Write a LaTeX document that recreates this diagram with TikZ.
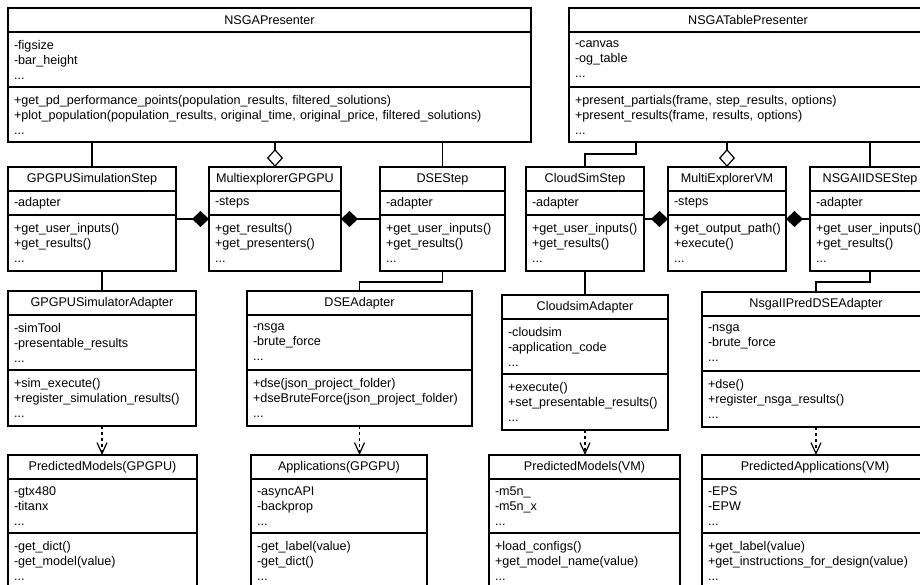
\documentclass[tikz,border=0pt]{standalone}
\usepackage{fontspec}
\setmainfont{Liberation Sans}
\usetikzlibrary{arrows.meta}
\tikzset{
	umlbox/.style={draw, inner xsep=6pt, inner ysep=0pt, outer sep=0pt, anchor=north west, font=\fontsize{12.6pt}{15pt}\selectfont},
	umltitle/.style={umlbox, align=center},
	umlpart/.style={umlbox, align=left},
	compo/.style={-{Diamond[length=17pt,width=16pt]}},
	aggreg/.style={-{Diamond[open,length=18pt,width=16pt]}},
	depend/.style={-{Straight Barb[length=11pt,width=10pt]}, dash pattern=on 3pt off 3pt},
}
\def\umlclass(#1)(#2)#3#4#5#6#7#8{%
	\pgfmathsetmacro\clw{#3-12}%
	\node[umltitle, minimum width=#3pt, text width=\clw pt, minimum height=24pt] (#1) at (#2) {#4};
	\node[umlpart, minimum width=#3pt, text width=\clw pt, minimum height=#6pt] (#1-a) at (#1.south west) {#5};
	\node[umlpart, minimum width=#3pt, text width=\clw pt, minimum height=#8pt] (#1-m) at (#1-a.south west) {#7};
}

\begin{document}
\begin{tikzpicture}[x=1pt, y=-1pt, line width=1.2pt]
		%%%%% START %%%%%
		\useasboundingbox (0,0) rectangle (920,585);
		\clip (0,0) rectangle (920,585);
		
		\umlclass(nsga)(8,8){523}{NSGAPresenter}
			{-figsize\\-bar\_height\\...}{55}
			{+get\_pd\_performance\_points(population\_results, filtered\_solutions)\\+plot\_population(population\_results, original\_time, original\_price, filtered\_solutions)\\...}{55}
		\umlclass(ntab)(569,8){358}{NSGATablePresenter}
			{-canvas\\-og\_table\\...}{55}
			{+present\_partials(frame, step\_results, options)\\+present\_results(frame, results, options)\\...}{55}
		
		\umlclass(gsim)(8,167){168}{GPGPUSimulationStep}
			{-adapter}{24}{+get\_user\_inputs()\\+get\_results()\\...}{56}
		\umlclass(mgpu)(209,167){132}{MultiexplorerGPGPU}
			{-steps}{24}{+get\_results()\\+get\_presenters()\\...}{56}
		\umlclass(dse)(380,167){125}{DSEStep}
			{-adapter}{24}{+get\_user\_inputs()\\+get\_results()\\...}{56}
		\umlclass(csim)(526,167){118}{CloudSimStep}
			{-adapter}{24}{+get\_user\_inputs()\\+get\_results()\\...}{56}
		\umlclass(mvm)(668,167){118}{MultiExplorerVM}
			{-steps}{24}{+get\_output\_path()\\+execute()\\...}{56}
		\umlclass(ndse)(810,167){120}{NSGAIIDSEStep}
			{-adapter}{24}{+get\_user\_inputs()\\+get\_results()\\...}{56}
		
		\umlclass(gsima)(8,291){188}{GPGPUSimulatorAdapter}
			{-simTool\\-presentable\_results\\...}{55}
			{+sim\_execute()\\+register\_simulation\_results()\\...}{56}
		\umlclass(dsea)(247,291){225}{DSEAdapter}
			{-nsga\\-brute\_force\\...}{55}
			{+dse(json\_project\_folder)\\+dseBruteForce(json\_project\_folder)\\...}{56}
		\umlclass(csa)(502,295){166}{CloudsimAdapter}
			{-cloudsim\\-application\_code\\...}{55}
			{+execute()\\+set\_presentable\_results()\\...}{56}
		\umlclass(npa)(702,292){228}{NsgaIIPredDSEAdapter}
			{-nsga\\-brute\_force\\...}{55}
			{+dse()\\+register\_nsga\_results()\\...}{56}
		
		\umlclass(pmg)(8,455){189}{PredictedModels(GPGPU)}
			{-gtx480\\-titanx\\...}{54}{-get\_dict()\\-get\_model(value)\\...}{55}
		\umlclass(apg)(251,455){176}{Applications(GPGPU)}
			{-asyncAPI\\-backprop\\...}{54}{-get\_label(value)\\-get\_dict()\\...}{55}
		\umlclass(pmv)(489,455){191}{PredictedModels(VM)}
			{-m5n\_\\-m5n\_x\\...}{54}{+load\_configs()\\+get\_model\_name(value)\\...}{55}
		\umlclass(pav)(702,455){226}{PredictedApplications(VM)}
			{-EPS\\-EPW\\...}{54}{+get\_label(value)\\+get\_instructions\_for\_design(value)\\...}{55}
		
		% presenters to steps
		\draw (gsim.north |- nsga-m.south) -- (gsim.north);
		\draw[aggreg] (mgpu.north |- nsga-m.south) -- (mgpu.north);
		\draw (dse.north |- nsga-m.south) -- (dse.north);
		\draw (csim.north) -- ++(0,-13) -| ([xshift=67pt]ntab-m.south west);
		\draw[aggreg] (mvm.north |- ntab-m.south) -- (mvm.north);
		\draw (ndse.north |- ntab-m.south) -- (ndse.north);
		
		\draw[compo] ([yshift=-4pt]gsim-m.north east) -- ([yshift=-4pt]mgpu-m.north west);
		\draw[compo] ([yshift=-4pt]dse-m.north west) -- ([yshift=-4pt]mgpu-m.north east);
		\draw[compo] ([yshift=-4pt]csim-m.north east) -- ([yshift=-4pt]mvm-m.north west);
		\draw[compo] ([yshift=-4pt]ndse-m.north west) -- ([yshift=-4pt]mvm-m.north east);
		
		% steps to adapters
		\draw (gsima.north |- gsim-m.south) -- (gsima.north);
		\draw (dse-m.south) -- ++(0,11) -| (dsea.north);
		\draw (csim-m.south) -- (csa.north);
		\draw (ndse-m.south) -- ++(0,11) -| (npa.north);
		
		% adapters to data
		\draw[depend] (gsima-m.south) -- (gsima-m.south |- pmg.north);
		\draw[depend] (dsea-m.south) -- (dsea-m.south |- apg.north);
		\draw[depend] (csa-m.south) -- (csa-m.south |- pmv.north);
		\draw[depend] (npa-m.south) -- (npa-m.south |- pav.north);
		%%%%% END %%%%%
\end{tikzpicture}
\end{document}
